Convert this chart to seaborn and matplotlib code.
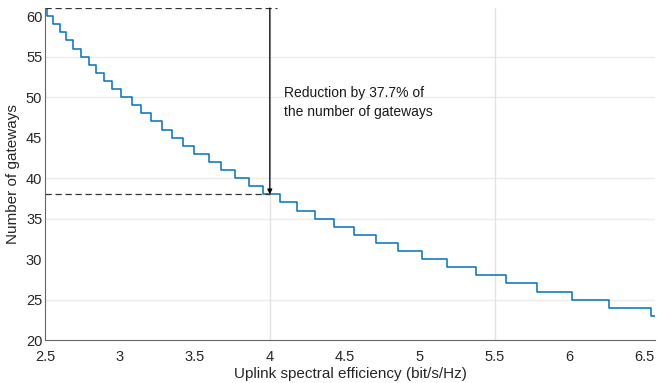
import numpy as np
import pandas as pd
import seaborn as sns
import matplotlib.pyplot as plt

# Step curve: number of gateways vs uplink spectral efficiency
gateways = list(range(61, 22, -1))  # 61 ... 23
step_x = [2.500, 2.511, 2.551, 2.600, 2.640, 2.689, 2.738, 2.793, 2.838, 2.893,
          2.945, 3.009, 3.080, 3.138, 3.207, 3.278, 3.349, 3.418, 3.496, 3.593,
          3.671, 3.767, 3.860, 3.955, 4.071, 4.178, 4.300, 4.427, 4.562, 4.707,
          4.856, 5.015, 5.184, 5.373, 5.573, 5.782, 6.015, 6.262, 6.540]
x_end = 6.57

x_ticks = [2.5, 3, 3.5, 4, 4.5, 5, 5.5, 6, 6.5]
x_ticklabels = ["2.5", "3", "3.5", "4", "4.5", "5", "5.5", "6", "6.5"]
y_ticks = [20, 25, 30, 35, 40, 45, 50, 55, 60]

# reference marks
x_ref = 4.0
y_start = 61
y_ref = 38
note = "Reduction by 37.7% of\nthe number of gateways"

df = pd.DataFrame({"SE": step_x + [x_end], "Gateways": gateways + [gateways[-1]]})

sns.set_theme(style="white")
plt.rcParams["font.family"] = ["Liberation Sans", "DejaVu Sans"]

fig = plt.figure(figsize=(6.57, 3.83), dpi=100)
ax = fig.add_axes([0.0685, 0.112, 0.9285, 0.867])

# light grid (only the lines that show in the original)
for gy in [25, 35, 40, 50, 55]:
    ax.axhline(gy, color="#ebebeb", lw=1, zorder=0)
for gx in [4, 5.5]:
    ax.axvline(gx, color="#e3e3e3", lw=1, zorder=0)

sns.lineplot(data=df, x="SE", y="Gateways", drawstyle="steps-post",
             color="#0072BD", lw=1.1, ax=ax)

# annotation
ax.plot([2.5, 4.05], [y_start, y_start], ls="--", color="#333333", lw=0.9, dashes=(5, 3))
ax.plot([2.5, x_ref], [y_ref, y_ref], ls="--", color="#333333", lw=0.9, dashes=(5, 3))
ax.annotate("", xy=(x_ref, y_ref), xytext=(x_ref, y_start),
            arrowprops=dict(arrowstyle="-|>", color="black", lw=0.9,
                            mutation_scale=7, shrinkA=0, shrinkB=0))
ax.text(4.095, 49.3, note, fontsize=10, va="center", ha="left",
        color="#1a1a1a", linespacing=1.45)

ax.set_xlim(2.5, 6.57)
ax.set_ylim(20, 61)
ax.set_xticks(x_ticks)
ax.set_xticklabels(x_ticklabels)
ax.set_yticks(y_ticks)
ax.tick_params(direction="in", length=3, width=0.8, colors="#555555",
               labelcolor="#262626", labelsize=10.5, pad=2)
ax.tick_params(axis="x", pad=7)
ax.set_xlabel("Uplink spectral efficiency (bit/s/Hz)", fontsize=11,
              color="#262626", labelpad=2)
ax.set_ylabel("Number of gateways", fontsize=11, color="#262626", labelpad=4)

for s in ["top", "right"]:
    ax.spines[s].set_visible(False)
for s in ["left", "bottom"]:
    ax.spines[s].set_color("#666666")
    ax.spines[s].set_linewidth(0.8)

fig.savefig("out.png", dpi=100)
